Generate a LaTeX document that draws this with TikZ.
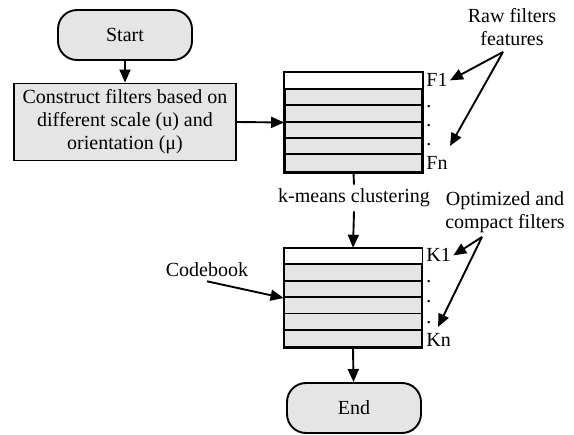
\documentclass[tikz,border=0pt]{standalone}
\usepackage{fontspec}
\setmainfont{Liberation Serif}
\usetikzlibrary{arrows.meta,positioning,calc}

\definecolor{boxgray}{gray}{0.9}
\tikzset{
  terminal/.style={draw, fill=boxgray, rounded corners=19pt, minimum width=134pt, minimum height=50pt},
  process/.style={draw, fill=boxgray, minimum width=222pt, minimum height=77pt, align=center},
  codetab/.style={draw, fill=boxgray, minimum width=137pt, minimum height=98.5pt, inner sep=0pt},
  rowlbl/.style={anchor=base west, inner sep=1.5pt},
  note/.style={align=center, inner sep=1pt},
  arr/.style={-{Triangle[length=13pt,width=11pt]}},
}

\begin{document}
\begin{tikzpicture}[x=1pt, y=-1pt, line width=1.9pt, font=\fontsize{20}{23}\selectfont]
  \useasboundingbox (0,0) rectangle (574,435);

  \node[terminal] (start) at (125,35) {Start};
  \node[process] (construct) at (125,122) {Construct filters based on\\different scale (u) and\\orientation (μ)};
  \draw[arr] (start) -- (construct);

  % raw filter table
  \node[codetab] (rawtab) at (353.5,122.5) {};
  \fill[white] (rawtab.north west) rectangle ($(rawtab.north east)+(0,16.42)$);
  \draw (rawtab.north west) rectangle (rawtab.south east);
  \foreach \k in {1,...,5}
    \draw ($(rawtab.north west)+(0,16.42*\k)$) -- ($(rawtab.north east)+(0,16.42*\k)$);
  \node[rowlbl] (f1) at (424,87) {F1};
  \node[rowlbl] (fd1) at (424,108) {.};
  \node[rowlbl] (fd2) at (424,127) {.};
  \node[rowlbl] (fd3) at (424,146) {.};
  \node[rowlbl] (fn) at (424,170) {Fn};
  \draw[arr] (construct.east) -- (rawtab.west);

  \node[note] (rawnote) at (512,27) {Raw filters\\features};
  \coordinate (rawsrc) at (503,52);
  \coordinate (rawtip) at (450,146);
  \draw[arr] (rawsrc) -- (f1.east);
  \draw[arr] (rawsrc) -- (rawtip);

  \node (kmeans) at (354,198) {k-means clustering};
  \draw (rawtab.south) -- (kmeans.north);

  % codebook table
  \node[codetab] (cbtab) at (353,298) {};
  \fill[white] (cbtab.north west) rectangle ($(cbtab.north east)+(0,16.42)$);
  \draw (cbtab.north west) rectangle (cbtab.south east);
  \foreach \k in {1,...,5}
    \draw ($(cbtab.north west)+(0,16.42*\k)$) -- ($(cbtab.north east)+(0,16.42*\k)$);
  \node[rowlbl] (k1) at (424,262) {K1};
  \node[rowlbl] (kd1) at (424,283) {.};
  \node[rowlbl] (kd2) at (424,303) {.};
  \node[rowlbl] (kd3) at (424,324) {.};
  \node[rowlbl] (kn) at (424,347) {Kn};
  \draw[arr] (kmeans.south) -- (cbtab.north);

  \node[note] (optnote) at (505,212) {Optimized and\\compact filters};
  \coordinate (optsrc) at (482,237);
  \coordinate (opttip) at (438,327);
  \draw[arr] (optsrc) -- (k1.east);
  \draw[arr] (optsrc) -- (opttip);

  \node (codebook) at (207,270) {Codebook};
  \draw[arr] (codebook.south) -- (cbtab.west);

  \node[terminal] (stop) at (354,408) {End};
  \draw[arr] (cbtab.south) -- (stop);
\end{tikzpicture}
\end{document}
